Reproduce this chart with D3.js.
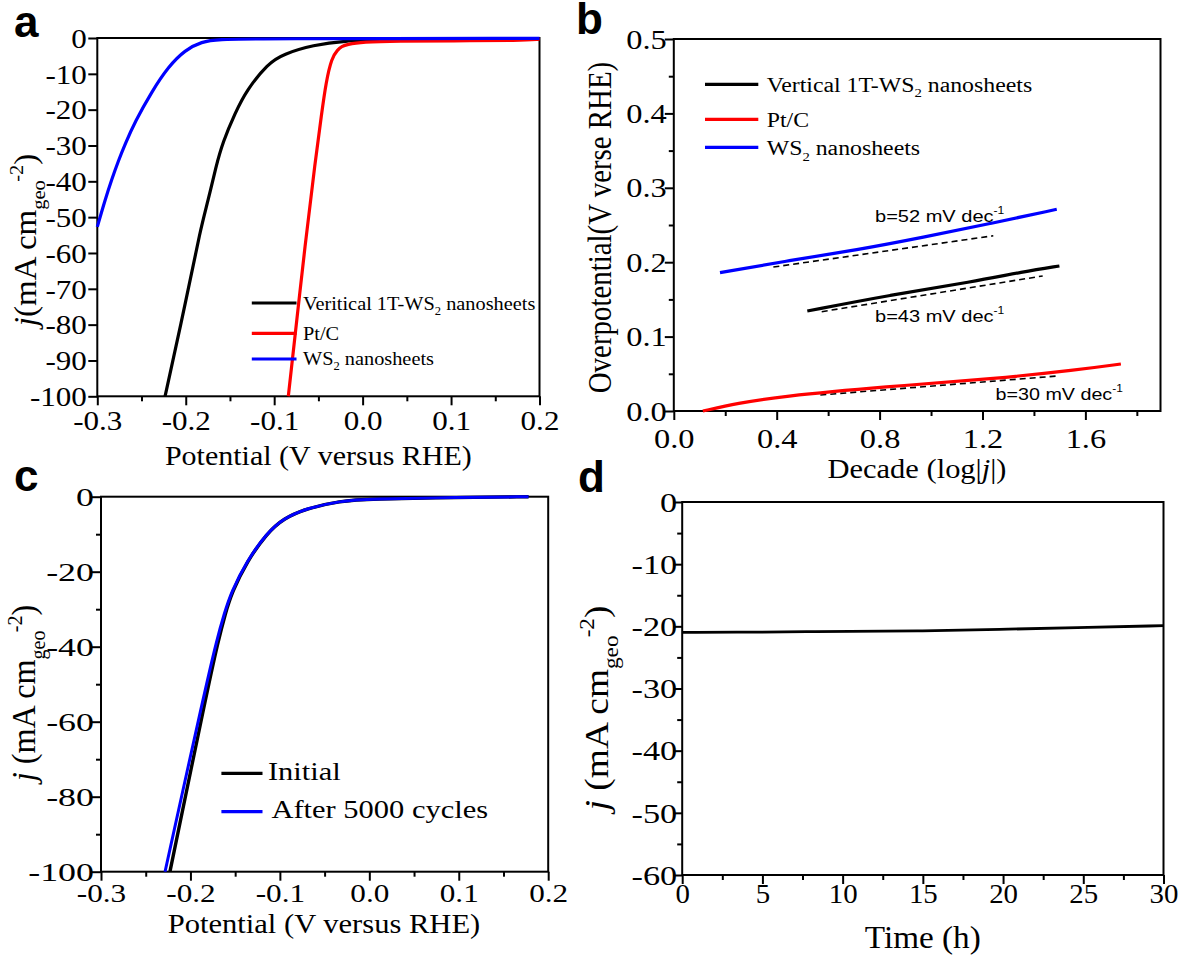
<!DOCTYPE html>
<html><head><meta charset="utf-8">
<script src="https://cdn.jsdelivr.net/npm/d3@7"></script>
<style>body{margin:0;background:#fff}svg{display:block}</style>
</head><body>
<svg id="fig" width="1178" height="957"></svg>
<script>
// ---------- DATA ----------
// Panel a: polarization curves (Potential V vs RHE, j mA cm-2)
const aVertV = [-0.2234,-0.1985,-0.1836,-0.1745,-0.166,-0.158,-0.1443,-0.131,-0.107,-0.09,-0.0557,-0.0199,0.0197,0.1,0.2];
const aVertJ = [-100,-72,-53.6,-45.2,-36,-29,-21.0,-14.5,-7.1,-4.5,-1.95,-0.75,-0.56,-0.35,-0.3];
const aPtV = [-0.084,-0.0632,-0.0538,-0.0463,-0.0415,-0.035,-0.028,-0.0237,-0.018,0.0,0.04,0.1,0.18,0.2];
const aPtJ = [-100,-53.6,-35,-21,-12.5,-5.5,-3.2,-2.4,-1.8,-1.1,-0.85,-0.8,-0.7,-0.3];
const aWsV = [-0.3,-0.2912,-0.2837,-0.2762,-0.2687,-0.2574,-0.2385,-0.2197,-0.2008,-0.182,-0.163,-0.12,0.2];
const aWsJ = [-52.7,-45.2,-39.5,-34.3,-29.7,-23.4,-15,-8,-3.35,-1.0,-0.37,-0.2,-0.1];
const aLegend = ["Veritical 1T-WS|2| nanosheets", "Pt/C", "WS|2| nanosheets"];

// Panel b: Tafel plots (Decade log|j|, overpotential V)
const bVertX = [0.519,0.8406,1.1645,1.359,1.499];
const bVertY = [0.1344,0.1559,0.1738,0.1872,0.1949];
const bPtX = [0.1128,0.25,0.406,0.8215,1.266,1.563,1.738];
const bPtY = [0.0,0.0105,0.0192,0.0327,0.0439,0.055,0.0632];
const bWsX = [0.1796,0.4518,0.711,0.970,1.229,1.4887];
const bWsY = [0.1859,0.2025,0.2163,0.2335,0.2518,0.2711];
const bFitWsX = [0.387,1.242], bFitWsY = [0.1935,0.2355];
const bFitVertX = [0.575,1.434], bFitVertY = [0.1335,0.1815];
const bFitPtX = [0.5696,1.489], bFitPtY = [0.0215,0.047];
const bLegend = ["Vertical 1T-WS|2| nanosheets", "Pt/C", "WS|2| nanosheets"];
const bSlopes = ["b=52 mV dec", "b=43 mV dec", "b=30 mV dec"];

// Panel c: stability LSV
const cInitV = [-0.2229,-0.1815,-0.169,-0.161,-0.1538,-0.1367,-0.1146,-0.0961,-0.07,-0.0328,0.0,0.1,0.178];
const cInitJ = [-100,-52,-38.5,-31.2,-25.6,-17.2,-9.8,-5.8,-3.1,-1.15,-0.6,-0.2,0];
const cAftV = [-0.2284,-0.1837,-0.1706,-0.162,-0.1545,-0.1371,-0.1148,-0.0962,-0.07,-0.0328,0.0,0.1,0.178];
const cAftJ = [-100,-51.5,-38.2,-31,-25.5,-17.2,-9.8,-5.8,-3.1,-1.15,-0.6,-0.2,0];
const cLegend = ["Initial", "After 5000 cycles"];

// Panel d: chronoamperometry
const dTime = [0,5,7.9,10,15,19.8,24.5,30];
const dJ = [-20.97,-20.93,-20.86,-20.82,-20.75,-20.5,-20.2,-19.9];

// Tick values
const potMajor = [-0.3,-0.2,-0.1,0.0,0.1,0.2];
const potMinor = [-0.25,-0.15,-0.05,0.05,0.15];
const aYMajor = [0,-10,-20,-30,-40,-50,-60,-70,-80,-90,-100];
const bXMajor = [0.0,0.4,0.8,1.2,1.6], bXMinor = [0.2,0.6,1.0,1.4,1.8];
const bYMajor = [0.0,0.1,0.2,0.3,0.4,0.5], bYMinor = [0.05,0.15,0.25,0.35,0.45];
const cYMajor = [0,-20,-40,-60,-80,-100], cYMinor = [-10,-30,-50,-70,-90];
const dXMajor = [0,5,10,15,20,25,30], dXMinor = [2.5,7.5,12.5,17.5,22.5,27.5];
const dYMajor = [0,-10,-20,-30,-40,-50,-60], dYMinor = [-5,-15,-25,-35,-45,-55];

// ---------- DRAWING ----------
const SERIF = 'Liberation Serif, Times New Roman, serif';
const SANS = 'Liberation Sans, Arial, sans-serif';
const svg = d3.select('#fig');
svg.append('rect').attr('width',1178).attr('height',957).attr('fill','#fff');

function panel(c){
  const g = svg.append('g');
  const x = d3.scaleLinear().domain(c.xd).range([c.L, c.R]);
  const y = d3.scaleLinear().domain(c.yd).range([c.B, c.T]);
  const style = sel => {
    sel.select('.domain').remove();
    sel.selectAll('line').attr('stroke','#000').attr('stroke-width',2);
    sel.attr('font-family',SERIF).attr('font-size',c.tf);
  };
  if (c.xMinor) g.append('g').attr('transform',`translate(0,${c.B})`)
    .call(d3.axisBottom(x).tickValues(c.xMinor).tickSize(5).tickSizeOuter(0).tickFormat('')).call(style);
  const gx = g.append('g').attr('transform',`translate(0,${c.B})`)
    .call(d3.axisBottom(x).tickValues(c.xMajor).tickSize(9).tickSizeOuter(0).tickFormat(c.xf)).call(style);
  gx.selectAll('text').attr('y',0).attr('dy',0).attr('fill','#000')
    .attr('font-family',SERIF).attr('font-size',c.tf)
    .attr('transform',`translate(0,${c.xlb}) scale(${c.kxx||c.kx},1)`);
  if (c.yMinor) g.append('g').attr('transform',`translate(${c.L},0)`)
    .call(d3.axisLeft(y).tickValues(c.yMinor).tickSize(5).tickSizeOuter(0).tickFormat('')).call(style);
  const gy = g.append('g').attr('transform',`translate(${c.L},0)`)
    .call(d3.axisLeft(y).tickValues(c.yMajor).tickSize(9).tickSizeOuter(0).tickFormat(c.yf)).call(style);
  gy.selectAll('text').attr('x',0).attr('dy','0.34em').attr('fill','#000')
    .attr('font-family',SERIF).attr('font-size',c.tf)
    .attr('transform',`translate(${-c.ypad},0) scale(${c.kx},1)`);
  g.append('rect').attr('x',c.L).attr('y',c.T).attr('width',c.R-c.L).attr('height',c.B-c.T)
    .attr('fill','none').attr('stroke','#000').attr('stroke-width',2);
  return {g,x,y};
}

function curve(p, xs, ys, color, w, dash){
  const pts = xs.map((v,i)=>[v, ys[i]]);
  const ln = d3.line().x(d=>p.x(d[0])).y(d=>p.y(d[1])).curve(dash ? d3.curveLinear : d3.curveBasis);
  p.g.append('path').attr('d', ln(pts)).attr('fill','none').attr('stroke',color)
    .attr('stroke-width',w).attr('stroke-dasharray', dash||null).attr('stroke-linejoin','round');
}

// rich text: "|2|" marks subscript
function richText(sel, str, fs){
  const parts = str.split('|');
  parts.forEach((s,i)=>{
    if (!s) return;
    if (i%2===1){
      sel.append('tspan').attr('font-size',fs*0.62).attr('dy',fs*0.28).text(s);
    } else {
      sel.append('tspan').attr('dy', i>0 ? -fs*0.28 : 0).text(s);
    }
  });
}

function hText(x, y, anchor, targetW, fs, family, build){
  const t = svg.append('text').attr('font-family',family).attr('font-size',fs).attr('fill','#000');
  build(t);
  const w = t.node().getBBox().width;
  const k = targetW ? targetW / w : 1;
  const off = anchor==='middle' ? targetW/2 : anchor==='end' ? targetW : 0;
  t.attr('transform',`translate(${x-off},${y}) scale(${k},1)`);
  return t;
}

function vText(cx, cy, targetLen, fs, sy, build){
  const t = svg.append('text').attr('font-family',SERIF).attr('font-size',fs).attr('fill','#000')
    .attr('text-anchor','middle');
  build(t);
  const w = t.node().getBBox().width;
  const k = targetLen / w;
  t.attr('transform',`translate(${cx},${cy}) rotate(-90) scale(${k},${sy})`);
  return t;
}

function jTitle(t, fs, space){
  t.append('tspan').attr('font-style','italic').text('j');
  t.append('tspan').text((space?' ':'')+'(mA cm');
  t.append('tspan').attr('font-size',fs*0.62).attr('dy',fs*0.3).text('geo');
  t.append('tspan').attr('font-size',fs*0.62).attr('dy',-fs*0.68).attr('dx',-fs*0.05).text('-2');
  t.append('tspan').attr('dy',fs*0.38).text(')');
}

function panelLetter(x, y, s){
  svg.append('text').attr('x',x).attr('y',y).attr('font-family',SANS).attr('font-weight','bold')
    .attr('font-size',44).attr('fill','#000').text(s);
}

const hy = f => d => f(d).replace('\u2212','-');
const fmt1 = hy(d3.format('.1f'));
const fmtInt = hy(d3.format('d'));

// ----- Panel a -----
const pa = panel({L:97.3,R:539.5,T:38,B:396.3,xd:[-0.3,0.2],yd:[-100,0],
  xMajor:potMajor,xMinor:potMinor,yMajor:aYMajor,yMinor:null,
  xf:fmt1,yf:fmtInt,tf:27,kx:1.15,xlb:34,ypad:10.5});
curve(pa, aVertV, aVertJ, '#000', 3.2);
curve(pa, aPtV, aPtJ, '#ff0000', 3.2);
curve(pa, aWsV, aWsJ, '#0000ff', 3.2);
const aLegColors = ['#000','#ff0000','#0000ff'];
const aLegY = [303,333.3,359], aLegBase = [309.5,340,364.5];
aLegend.forEach((s,i)=>{
  pa.g.append('line').attr('x1',251.8).attr('x2',296.5).attr('y1',aLegY[i]).attr('y2',aLegY[i])
    .attr('stroke',aLegColors[i]).attr('stroke-width',3.2);
  svg.append('text').attr('font-family',SERIF).attr('font-size',19).attr('fill','#000')
    .attr('transform',`translate(303,${aLegBase[i]}) scale(1.07,1)`)
    .call(t=>richText(t, s, 19));
});
hText(318.4, 465, 'middle', 307, 28, SERIF, t=>t.text('Potential (V versus RHE)'));
vText(35.5, 240, 176, 28, 1.13, t=>jTitle(t, 28, false));
panelLetter(14, 37, 'a');

// ----- Panel b -----
const pb = panel({L:673.8,R:1160.5,T:39,B:411,xd:[0,1.892],yd:[0,0.5],
  xMajor:bXMajor,xMinor:bXMinor,yMajor:bYMajor,yMinor:bYMinor,
  xf:fmt1,yf:fmt1,tf:27,kx:1.2,xlb:37,ypad:7});
curve(pb, bFitWsX, bFitWsY, '#000', 1.6, '6,4');
curve(pb, bFitVertX, bFitVertY, '#000', 1.6, '6,4');
curve(pb, bFitPtX, bFitPtY, '#000', 1.6, '6,4');
curve(pb, bWsX, bWsY, '#0000ff', 3.2);
curve(pb, bVertX, bVertY, '#000', 3.2);
curve(pb, bPtX, bPtY, '#ff0000', 3.2);
const bLegY = [84.3,119.3,147.3], bLegBase = [91.7,126.7,155];
bLegend.forEach((s,i)=>{
  pb.g.append('line').attr('x1',705).attr('x2',758.3).attr('y1',bLegY[i]).attr('y2',bLegY[i])
    .attr('stroke',aLegColors[i]).attr('stroke-width',3.2);
  svg.append('text').attr('font-family',SERIF).attr('font-size',20).attr('fill','#000')
    .attr('transform',`translate(766.7,${bLegBase[i]}) scale(1.19,1)`)
    .call(t=>richText(t, s, 20));
});
const slopePos = [[875,221.7,130],[875,321.7,130],[995.5,400,128]];
bSlopes.forEach((s,i)=>{
  hText(slopePos[i][0], slopePos[i][1], 'start', slopePos[i][2], 16.5, SANS, t=>{
    t.append('tspan').text(s);
    t.append('tspan').attr('font-size',10).attr('dy',-8).text('-1');
  });
});
hText(917, 478, 'middle', 179, 28, SERIF, t=>{
  t.append('tspan').text('Decade (log|');
  t.append('tspan').attr('font-style','italic').text('j');
  t.append('tspan').text('|)');
});
vText(610.5, 227.5, 331.6, 29, 1.15, t=>t.text('Overpotential(V verse RHE)'));
panelLetter(576, 34, 'b');

// ----- Panel c -----
const pc = panel({L:101,R:548.2,T:496.7,B:871.7,xd:[-0.3,0.2],yd:[-100,0],
  xMajor:potMajor,xMinor:potMinor,yMajor:cYMajor,yMinor:cYMinor,
  xf:fmt1,yf:fmtInt,tf:26,kx:1.38,kxx:1.2,xlb:30,ypad:7});
curve(pc, cInitV, cInitJ, '#000', 3.4);
curve(pc, cAftV, cAftJ, '#0000ff', 3.0);
const cLegY = [773.3,811.7], cLegX = [267.9,271.4], cLegBase=[780,818.3];
cLegend.forEach((s,i)=>{
  pc.g.append('line').attr('x1',221.4).attr('x2',262.5).attr('y1',cLegY[i]).attr('y2',cLegY[i])
    .attr('stroke',i? '#0000ff':'#000').attr('stroke-width',3.2);
  svg.append('text').attr('font-family',SERIF).attr('font-size',25).attr('fill','#000')
    .attr('transform',`translate(${cLegX[i]},${cLegBase[i]}) scale(1.22,1)`).text(s);
});
hText(324, 933.3, 'middle', 312.5, 28, SERIF, t=>t.text('Potential (V versus RHE)'));
vText(34.5, 693, 180, 28, 1.2, t=>jTitle(t, 28, true));
panelLetter(14, 491, 'c');

// ----- Panel d -----
const pd = panel({L:682.2,R:1163.5,T:502,B:875,xd:[0,30],yd:[-60,0],
  xMajor:dXMajor,xMinor:dXMinor,yMajor:dYMajor,yMinor:dYMinor,
  xf:fmtInt,yf:fmtInt,tf:27,kx:1.27,kxx:1.07,xlb:27.5,ypad:5});
curve(pd, dTime, dJ, '#000', 2.8);
hText(922.8, 948.3, 'middle', 116, 31, SERIF, t=>t.text('Time (h)'));
vText(607.5, 708, 210, 30, 1.15, t=>jTitle(t, 30, true));
panelLetter(578, 492, 'd');
</script>
</body></html>
